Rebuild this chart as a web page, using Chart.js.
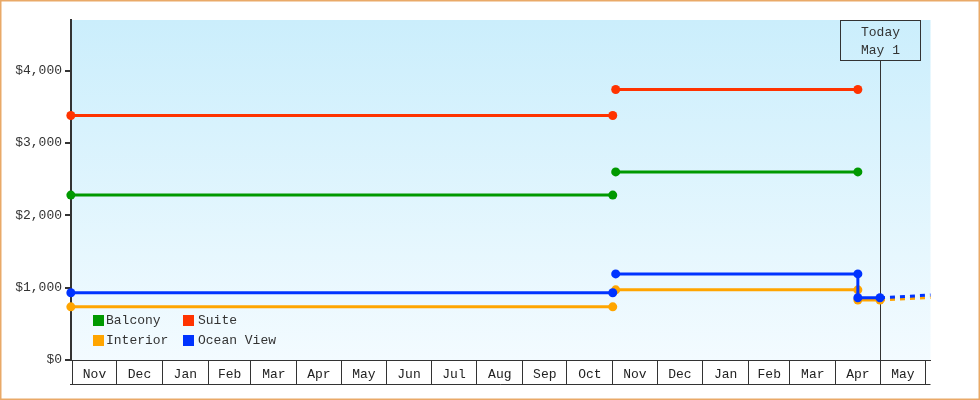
<!DOCTYPE html>
<html><head><meta charset="utf-8">
<script src="https://cdn.jsdelivr.net/npm/chart.js@4"></script>
<style>html,body{margin:0;padding:0;background:#fff}canvas{display:block}</style>
</head><body>
<canvas id="c" width="980" height="400"></canvas>
<script>
// ---------- data ----------
const monthLabels = ['Nov','Dec','Jan','Feb','Mar','Apr','May','Jun','Jul','Aug','Sep','Oct','Nov','Dec','Jan','Feb','Mar','Apr','May'];
const monthStarts = ['2011-11-01','2011-12-01','2012-01-01','2012-02-01','2012-03-01','2012-04-01','2012-05-01','2012-06-01','2012-07-01','2012-08-01','2012-09-01','2012-10-01','2012-11-01','2012-12-01','2013-01-01','2013-02-01','2013-03-01','2013-04-01','2013-05-01','2013-06-01'];
const yTickValues = [0, 1000, 2000, 3000, 4000];
const seriesNames = ['Balcony', 'Suite', 'Interior', 'Ocean View'];
const seriesColors = ['#009900', '#ff3300', '#ffa500', '#0033ff'];
const pointDates = ['2011-10-31','2012-11-01','2012-11-02','2012-11-03','2013-04-16','2013-04-16','2013-05-01','2013-06-06'];
const balconyPrices  = [2280, 2280, null, 2600, 2600, null, null, null];
const suitePrices    = [3380, 3380, null, 3740, 3740, null, null, null];
const interiorPrices = [735,  735,  null, 970,  970,  830,  830,  865];
const oceanPrices    = [930,  930,  null, 1190, 1190, 860,  860,  900];
const todayDate = '2013-05-01';
const todayText = ['Today', 'May 1'];
const xDomainDays = [-0.9, 581.2];   // axis domain, days from first month start
const yDomain = [0, 4700];

// ---------- helpers ----------
const FONT = 'Liberation Mono';
const origin = Date.parse(monthStarts[0] + 'T00:00:00Z');
const dayOf = d => (Date.parse(d + 'T00:00:00Z') - origin) / 86400000;
const boundaryDays = monthStarts.map(dayOf);
const midDays = monthLabels.map((_, i) => (boundaryDays[i] + boundaryDays[i + 1]) / 2);
const todayDay = dayOf(todayDate);
const allPrices = [balconyPrices, suitePrices, interiorPrices, oceanPrices];
const drawOrder = [3, 2, 1, 0];

const datasets = seriesNames.map((name, s) => ({
  label: name,
  data: pointDates.map((d, i) => ({ x: dayOf(d), y: allPrices[s][i] })),
  borderColor: seriesColors[s],
  backgroundColor: seriesColors[s],
  pointBackgroundColor: seriesColors[s],
  pointBorderWidth: 0,
  borderWidth: 3,
  pointRadius: ctx => (ctx.raw && ctx.raw.x > todayDay) ? 0 : 4.5,
  pointHoverRadius: 4.5,
  tension: 0,
  spanGaps: false,
  order: drawOrder[s],
  clip: { left: 6, right: 0, top: 6, bottom: 6 },
  segment: { borderDash: ctx => ctx.p0.parsed.x >= todayDay ? [5, 5] : undefined }
}));

const decor = {
  id: 'decor',
  beforeDraw(chart) {
    const { ctx, chartArea: a } = chart;
    ctx.save();
    ctx.fillStyle = '#ffffff';
    ctx.fillRect(0, 0, chart.width, chart.height);
    const g = ctx.createLinearGradient(0, a.top, 0, a.bottom);
    g.addColorStop(0, '#cbeefc');
    g.addColorStop(1, '#f3fbff');
    ctx.fillStyle = g;
    ctx.fillRect(a.left, a.top, a.right - a.left, a.bottom - a.top);
    ctx.restore();
  },
  beforeDatasetsDraw(chart) {
    const { ctx, chartArea: a, scales: { x } } = chart;
    const px = Math.round(x.getPixelForValue(todayDay)) + 0.5;
    ctx.save();
    ctx.strokeStyle = '#333';
    ctx.lineWidth = 1;
    ctx.strokeRect(px - 40, a.top + 0.5, 80, 40);
    ctx.beginPath();
    ctx.moveTo(px, a.top + 40.5);
    ctx.lineTo(px, a.bottom);
    ctx.stroke();
    ctx.fillStyle = '#333';
    ctx.font = '13px "' + FONT + '"';
    ctx.textAlign = 'center';
    ctx.textBaseline = 'middle';
    ctx.fillText(todayText[0], px, a.top + 13);
    ctx.fillText(todayText[1], px, a.top + 31);
    ctx.restore();
  },
  afterDatasetsDraw(chart) {
    const { ctx, chartArea: a } = chart;
    ctx.save();
    ctx.font = '13px "' + FONT + '"';
    ctx.textBaseline = 'middle';
    ctx.textAlign = 'left';
    const order = [0, 1, 2, 3];
    order.forEach((s, k) => {
      const col = k % 2, row = Math.floor(k / 2);
      const bx = a.left + 22 + col * 90;
      const cy = a.bottom - 40 + row * 20;
      ctx.fillStyle = seriesColors[s];
      ctx.fillRect(bx, cy - 5, 11, 11);
      ctx.fillStyle = '#333';
      ctx.fillText(seriesNames[s], bx + 13 + col * 2, cy + 1);
    });
    ctx.restore();
  },
  afterDraw(chart) {
    const { ctx, scales: { x } } = chart;
    ctx.save();
    ctx.strokeStyle = '#333';
    ctx.lineWidth = 1;
    ctx.beginPath();
    ctx.moveTo(x.left - 1, x.top + 24.5);
    ctx.lineTo(x.right, x.top + 24.5);
    ctx.stroke();
    ctx.strokeStyle = '#e9a968';
    ctx.lineWidth = 1.5;
    ctx.strokeRect(0.75, 0.75, chart.width - 1.5, chart.height - 1.5);
    ctx.restore();
  }
};

new Chart(document.getElementById('c'), {
  type: 'line',
  data: { datasets },
  options: {
    responsive: false,
    animation: false,
    events: [],
    layout: { padding: { top: 20, right: 49.5, left: 0, bottom: 0 } },
    plugins: { legend: { display: false }, tooltip: { enabled: false } },
    scales: {
      x: {
        type: 'linear',
        min: xDomainDays[0],
        max: xDomainDays[1],
        afterBuildTicks: sc => {
          sc.ticks = boundaryDays.concat(midDays).sort((p, q) => p - q).map(v => ({ value: v }));
        },
        afterFit: sc => { sc.height = 40; },
        ticks: {
          autoSkip: false, maxRotation: 0, minRotation: 0,
          padding: -17,
          color: '#222',
          font: { family: FONT, size: 13 },
          callback: v => { const i = midDays.indexOf(v); return i >= 0 ? monthLabels[i] : ''; }
        },
        grid: {
          drawOnChartArea: false, drawTicks: true, tickLength: 24, lineWidth: 1,
          color: ctx => (ctx.tick && boundaryDays.includes(ctx.tick.value)) ? '#333' : 'rgba(0,0,0,0)'
        },
        border: { display: true, color: '#333', width: 1 }
      },
      y: {
        type: 'linear',
        min: yDomain[0],
        max: yDomain[1],
        afterBuildTicks: sc => { sc.ticks = yTickValues.map(v => ({ value: v })); },
        afterFit: sc => { sc.width = 71; },
        ticks: {
          padding: 3,
          color: '#333',
          font: { family: FONT, size: 13 },
          callback: v => '$' + v.toLocaleString('en-US')
        },
        grid: { drawOnChartArea: false, drawTicks: true, tickLength: 6, color: '#333', lineWidth: 2 },
        border: { display: true, color: '#333', width: 2 }
      }
    }
  },
  plugins: [decor]
});
</script>
</body></html>
